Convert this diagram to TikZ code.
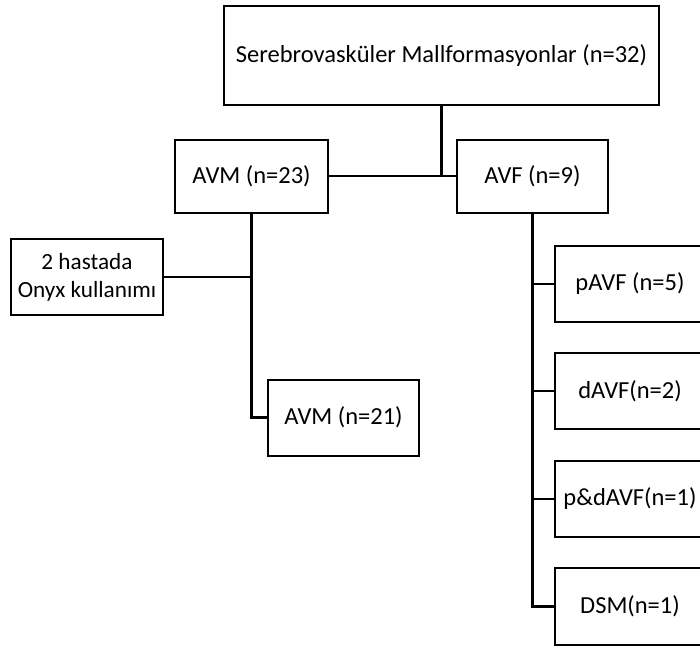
\documentclass[tikz,border=0pt]{standalone}
\usepackage{fontspec}
\setmainfont{Carlito}
\begin{document}
\begin{tikzpicture}[x=1pt,y=-1pt,
  box/.style={draw=black, line width=2pt, fill=white, inner sep=0pt, align=center,
    font=\fontsize{24.5}{29}\selectfont},
  conn/.style={draw=black, line width=2.5pt, line join=miter}]
\useasboundingbox (0,0) rectangle (700,646);
\clip (0,0) rectangle (700,646);
\node[box, minimum width=435pt, minimum height=99pt] (top) at (441.5,55.5) {Serebrovasküler Mallformasyonlar (n=32)};
\node[box, minimum width=153pt, minimum height=73pt] (avm) at (251.5,176) {AVM (n=23)};
\node[box, minimum width=151pt, minimum height=73pt] (avf) at (532.5,176) {AVF (n=9)};
\node[box, minimum width=152pt, minimum height=76pt, font=\fontsize{23.2}{28}\selectfont] (onyx) at (87,277) {2 hastada\\Onyx kullanımı};
\node[box, minimum width=151pt, minimum height=76pt] (avmb) at (343.5,417.5) {AVM (n=21)};
\node[box, minimum width=150pt, minimum height=76pt] (pavf) at (630,284) {pAVF (n=5)};
\node[box, minimum width=150pt, minimum height=76pt] (davf) at (630,391) {dAVF(n=2)};
\node[box, minimum width=150pt, minimum height=76pt] (pdavf) at (630,499) {p\&dAVF(n=1)};
\node[box, minimum width=150pt, minimum height=77pt] (dsm) at (630,606.5) {DSM(n=1)};
\draw[conn] (avm.east) -- (avf.west);
\draw[conn] (top.south) -- (top.south |- avf.west);
\draw[conn] (avm.south) -- (avm.south |- avmb.west) -- (avmb.west);
\draw[conn] (onyx.east) -- (onyx.east -| avm.south);
\draw[conn] (avf.south) -- (avf.south |- dsm.west) -- (dsm.west);
\draw[conn] (pavf.west) -- (pavf.west -| avf.south);
\draw[conn] (davf.west) -- (davf.west -| avf.south);
\draw[conn] (pdavf.west) -- (pdavf.west -| avf.south);
\end{tikzpicture}
\end{document}
